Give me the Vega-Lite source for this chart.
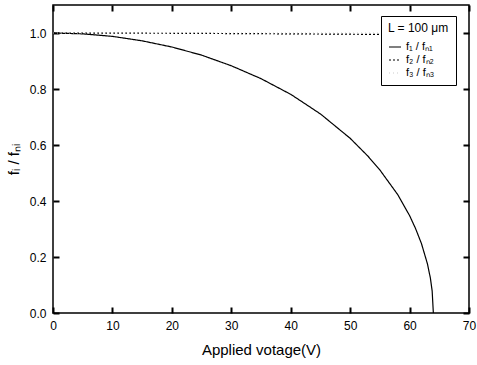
{
  "$schema": "https://vega.github.io/schema/vega-lite/v6.json",
  "width": 416,
  "height": 308,
  "autosize": "none",
  "padding": {"left": 53, "top": 5, "right": 8, "bottom": 52},
  "config": {
    "view": {"stroke": "black", "strokeWidth": 1.5},
    "font": "Liberation Sans",
    "axis": {"zindex": 1, "ticks": true, "domain": false, "offset": -6, "tickSize": 6, "tickColor": "#000000", "tickOpacity": 1, "labelColor": "black", "titleColor": "black", "grid": false, "labelFont": "Liberation Sans", "titleFont": "Liberation Sans", "tickWidth": 2}
  },
  "data": {
    "values": [
      {"v": 0, "r": 1.0, "s": "f₁ / fₙ₁"},
      {"v": 5, "r": 0.997, "s": "f₁ / fₙ₁"},
      {"v": 10, "r": 0.988, "s": "f₁ / fₙ₁"},
      {"v": 15, "r": 0.972, "s": "f₁ / fₙ₁"},
      {"v": 20, "r": 0.950, "s": "f₁ / fₙ₁"},
      {"v": 25, "r": 0.921, "s": "f₁ / fₙ₁"},
      {"v": 30, "r": 0.883, "s": "f₁ / fₙ₁"},
      {"v": 35, "r": 0.837, "s": "f₁ / fₙ₁"},
      {"v": 40, "r": 0.781, "s": "f₁ / fₙ₁"},
      {"v": 45, "r": 0.711, "s": "f₁ / fₙ₁"},
      {"v": 50, "r": 0.624, "s": "f₁ / fₙ₁"},
      {"v": 53, "r": 0.560, "s": "f₁ / fₙ₁"},
      {"v": 55, "r": 0.511, "s": "f₁ / fₙ₁"},
      {"v": 58, "r": 0.423, "s": "f₁ / fₙ₁"},
      {"v": 60, "r": 0.348, "s": "f₁ / fₙ₁"},
      {"v": 61, "r": 0.302, "s": "f₁ / fₙ₁"},
      {"v": 62, "r": 0.248, "s": "f₁ / fₙ₁"},
      {"v": 63, "r": 0.176, "s": "f₁ / fₙ₁"},
      {"v": 63.5, "r": 0.125, "s": "f₁ / fₙ₁"},
      {"v": 63.8, "r": 0.079, "s": "f₁ / fₙ₁"},
      {"v": 64, "r": 0.0, "s": "f₁ / fₙ₁"},
      {"v": 0, "r": 1.0, "s": "f₂ / fₙ₂"},
      {"v": 20, "r": 0.999, "s": "f₂ / fₙ₂"},
      {"v": 40, "r": 0.997, "s": "f₂ / fₙ₂"},
      {"v": 55, "r": 0.995, "s": "f₂ / fₙ₂"},
      {"v": 64, "r": 0.993, "s": "f₂ / fₙ₂"},
      {"v": 0, "r": 1.0, "s": "f₃ / fₙ₃"},
      {"v": 64, "r": 1.0, "s": "f₃ / fₙ₃"}
    ]
  },
  "layer": [
    {
      "mark": {"type": "line", "strokeWidth": 1.2},
      "encoding": {
        "x": {
          "field": "v", "type": "quantitative",
          "scale": {"domain": [0, 70], "nice": false},
          "axis": {
            "title": "Applied votage(V)", "titleFontSize": 15, "titleFontWeight": "normal", "titlePadding": 11,
            "values": [0,10,20,30,40,50,60,70],
            "labelFontSize": 12, "labelPadding": 7, "labelFlush": false
          }
        },
        "y": {
          "field": "r", "type": "quantitative",
          "scale": {"domain": [0, 1.1], "nice": false},
          "axis": {
            "title": "fᵢ / fₙᵢ", "titleFontSize": 15, "titleFontWeight": "normal", "titlePadding": 8,
            "values": [0,0.2,0.4,0.6,0.8,1.0],
            "format": ".1f",
            "labelFontSize": 12, "labelPadding": 7
          }
        },
        "color": {
          "field": "s", "type": "nominal",
          "scale": {"domain": ["f₁ / fₙ₁", "f₂ / fₙ₂", "f₃ / fₙ₃"], "range": ["black", "black", "#cccccc"]},
          "legend": {
            "title": "L = 100 μm", "titleFontSize": 12, "titleFontWeight": "normal", "titleColor": "black",
            "labelFontSize": 11, "labelColor": "black",
            "orient": "none", "legendX": 328, "legendY": 11,
            "fillColor": "white", "strokeColor": "black", "padding": 7,
            "symbolType": "stroke", "symbolSize": 144, "symbolStrokeWidth": 1.2,
            "rowPadding": 1, "titlePadding": 5
          }
        },
        "strokeDash": {
          "field": "s", "type": "nominal",
          "scale": {"domain": ["f₁ / fₙ₁", "f₂ / fₙ₂", "f₃ / fₙ₃"], "range": [[1, 0], [2, 2], [1, 3]]},
          "legend": null
        }
      }
    },
    {
      "mark": {"type": "line", "opacity": 0},
      "encoding": {
        "x": {
          "field": "v", "type": "quantitative",
          "axis": {
            "orient": "top", "title": null, "labels": false,
            "values": [0,10,20,30,40,50,60,70]
          }
        },
        "y": {
          "field": "r", "type": "quantitative",
          "axis": {
            "orient": "right", "title": null, "labels": false,
            "values": [0,0.2,0.4,0.6,0.8,1.0]
          }
        },
        "detail": {"field": "s", "type": "nominal"}
      }
    }
  ],
  "resolve": {"axis": {"x": "independent", "y": "independent"}}
}
